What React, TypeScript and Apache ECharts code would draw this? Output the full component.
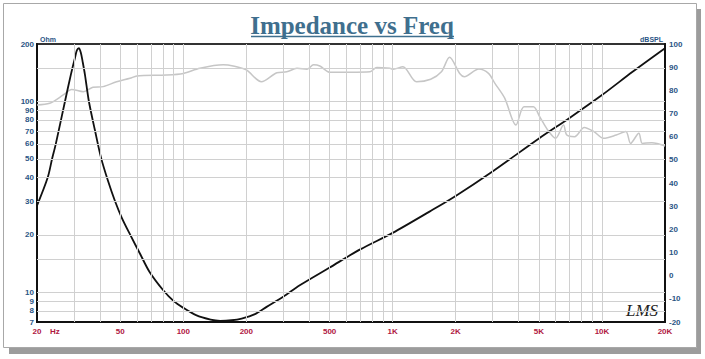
import { useEffect, useRef } from "react";
import * as echarts from "echarts";

// Impedance curve (Hz, Ohm)
const impFreq = [20, 22.5, 23.6, 24.6, 27.2, 29.1, 30.4, 31.0, 31.7, 32.4, 33.1, 33.9, 35.4, 37.9, 40.5, 43.7, 47.1, 50.9, 55.8, 62.2, 69, 80, 90, 100, 115, 135, 150, 170, 190, 220, 250, 300, 360, 500, 700, 1000, 1500, 2000, 3000, 5000, 7000, 10000, 14000, 20000];
const impOhm = [28.5, 40, 50, 60, 100, 140, 170, 185, 190, 180, 160, 138, 100, 70, 50.5, 38.3, 30.2, 24.5, 20, 15.9, 12.8, 10.3, 9.0, 8.3, 7.6, 7.2, 7.1, 7.15, 7.3, 7.7, 8.4, 9.5, 10.9, 13.5, 16.8, 20.5, 26.5, 32, 43, 64, 82, 108, 143, 190];

// SPL curve (Hz, dBSPL)
const splFreq = [20, 23, 26.7, 29.3, 33.3, 37, 41.4, 48, 55.6, 60, 83, 100, 120, 155, 173, 200, 236, 280, 312, 349, 390, 419, 449, 502, 625, 780, 840, 970, 1005, 1120, 1300, 1520, 1710, 1870, 2090, 2200, 2580, 2870, 3080, 3430, 3880, 4240, 4700, 5040, 5500, 6000, 6550, 6790, 7400, 8230, 9150, 10170, 11700, 13000, 13700, 15000, 15600, 17300, 20000];
const splDb = [73.7, 74.4, 78, 80.4, 79.4, 81.3, 81.6, 83.7, 85.2, 86.2, 86.6, 87.3, 89.5, 91, 90.5, 88.8, 83.7, 87.6, 88, 89.5, 89.1, 91, 90.5, 87.8, 87.8, 88, 89.9, 89.5, 89.1, 90.2, 83.7, 84.8, 88, 94.3, 87.3, 85.9, 89.2, 87.3, 83, 76.6, 65, 72.9, 72.9, 68.6, 62.9, 59.3, 65, 60.7, 60, 64, 62.2, 59.3, 60.7, 62.2, 57.1, 61.5, 57.1, 57.4, 56];

// Tick labels
const freqTicks = [20, 50, 100, 200, 500, 1000, 2000, 5000, 10000, 20000];
const freqTickLabels = ["20", "50", "100", "200", "500", "1K", "2K", "5K", "10K", "20K"];
const ohmTicks = [7, 8, 9, 10, 20, 30, 40, 50, 60, 70, 80, 90, 100, 200];

// Grid lines
const freqGrid = [30, 40, 50, 60, 70, 80, 90, 100, 200, 300, 400, 500, 600, 700, 800, 900, 1000, 2000, 3000, 4000, 5000, 6000, 7000, 8000, 9000, 10000];
const ohmGrid = [8, 9, 10, 15, 20, 30, 40, 50, 60, 70, 80, 90, 100, 150];

const BLUE = "#2b5585";
const RED = "#b0173f";
const LABEL_FONT = "Liberation Sans";

function closestLabel(v: number) {
  let best = 0;
  let bd = Infinity;
  freqTicks.forEach((t, i) => {
    const d = Math.abs(Math.log(v) - Math.log(t));
    if (d < bd) {
      bd = d;
      best = i;
    }
  });
  return freqTickLabels[best];
}

export default function App() {
  const ref = useRef<HTMLDivElement>(null);
  useEffect(() => {
    const chart = echarts.init(ref.current!, null, { renderer: "svg" });
    chart.setOption({
      animation: false,
      backgroundColor: "#ffffff",
      grid: {
        left: 37,
        top: 44,
        width: 628,
        height: 278,
        show: true,
        backgroundColor: "#ffffff",
        borderColor: "#333333",
        borderWidth: 2,
        z: 0,
      },
      xAxis: {
        type: "log",
        logBase: 10,
        min: 20,
        max: 20000,
        axisLine: { show: true, onZero: false, lineStyle: { color: "#111", width: 2 } },
        axisTick: { show: false },
        splitLine: { show: false },
        minorTick: { show: false },
        axisLabel: {
          customValues: freqTicks,
          formatter: (v: number) => closestLabel(v),
          color: RED,
          fontSize: 8,
          fontWeight: "bold",
          fontFamily: LABEL_FONT,
          margin: 5,
        },
      },
      yAxis: [
        {
          type: "log",
          logBase: 10,
          min: 7,
          max: 200,
          position: "left",
          axisLine: { show: true, onZero: false, lineStyle: { color: "#111", width: 2 } },
          axisTick: { show: false },
          splitLine: { show: false },
          axisLabel: {
            customValues: ohmTicks,
            formatter: (v: number) => String(Math.round(v)),
            color: BLUE,
            fontSize: 8,
            fontWeight: "bold",
            fontFamily: LABEL_FONT,
            margin: 3,
          },
        },
        {
          type: "value",
          min: -20,
          max: 100,
          interval: 10,
          position: "right",
          axisLine: { show: true, onZero: false, lineStyle: { color: "#111", width: 2 } },
          axisTick: { show: false },
          splitLine: { show: false },
          axisLabel: {
            color: BLUE,
            fontSize: 8,
            fontWeight: "bold",
            fontFamily: LABEL_FONT,
            margin: 4,
          },
        },
      ],
      series: [
        {
          type: "line",
          name: "grid",
          xAxisIndex: 0,
          yAxisIndex: 0,
          data: [[20, 7]],
          symbol: "none",
          lineStyle: { width: 0, opacity: 0 },
          silent: true,
          z: 1,
          markLine: {
            silent: true,
            symbol: ["none", "none"],
            label: { show: false },
            lineStyle: { color: "#d0d0d0", width: 1, type: "solid" },
            emphasis: { disabled: true },
            data: [
              ...freqGrid.map((f) => ({ xAxis: f })),
              ...ohmGrid.map((v) => ({ yAxis: v })),
            ],
          },
        },
        {
          type: "line",
          name: "SPL",
          xAxisIndex: 0,
          yAxisIndex: 1,
          data: splFreq.map((f, i) => [f, splDb[i]]),
          symbol: "none",
          smooth: 0.3,
          lineStyle: { color: "#c6c6c6", width: 1.5 },
          silent: true,
          z: 2,
        },
        {
          type: "line",
          name: "Impedance",
          xAxisIndex: 0,
          yAxisIndex: 0,
          data: impFreq.map((f, i) => [f, impOhm[i]]),
          symbol: "none",
          smooth: 0.3,
          lineStyle: { color: "#111111", width: 1.8 },
          silent: true,
          z: 3,
        },
      ],
      graphic: [
        {
          type: "rect",
          z: -20,
          silent: true,
          shape: { x: 9, y: 9, width: 692, height: 345 },
          style: { fill: "#9c9c9c" },
        },
        {
          type: "rect",
          z: -19,
          silent: true,
          shape: { x: 3.5, y: 3.5, width: 693, height: 344 },
          style: { fill: "#ffffff", stroke: "#a8a8a8", lineWidth: 1 },
        },
        {
          type: "text",
          x: 352,
          y: 25,
          silent: true,
          style: {
            text: "Impedance vs Freq",
            fontSize: 25,
            fontWeight: "bold",
            fontFamily: "Liberation Serif",
            fill: "#3f6f8e",
            align: "center",
            verticalAlign: "middle",
          },
        },
        {
          type: "line",
          silent: true,
          shape: { x1: 251, y1: 36.5, x2: 454, y2: 36.5 },
          style: { stroke: "#3f6f8e", lineWidth: 1.5 },
        },
        {
          type: "text",
          x: 40,
          y: 39,
          silent: true,
          style: {
            text: "Ohm",
            fontSize: 7,
            fontWeight: "bold",
            fontFamily: LABEL_FONT,
            fill: BLUE,
            align: "left",
            verticalAlign: "middle",
          },
        },
        {
          type: "text",
          x: 663,
          y: 39,
          silent: true,
          style: {
            text: "dBSPL",
            fontSize: 7,
            fontWeight: "bold",
            fontFamily: LABEL_FONT,
            fill: BLUE,
            align: "right",
            verticalAlign: "middle",
          },
        },
        {
          type: "text",
          x: 50,
          y: 331,
          silent: true,
          style: {
            text: "Hz",
            fontSize: 8,
            fontWeight: "bold",
            fontFamily: LABEL_FONT,
            fill: RED,
            align: "left",
            verticalAlign: "middle",
          },
        },
        {
          type: "text",
          x: 642,
          y: 310,
          silent: true,
          style: {
            text: "LMS",
            fontSize: 17,
            fontStyle: "italic",
            fontFamily: "Liberation Serif",
            fill: "#222222",
            align: "center",
            verticalAlign: "middle",
          },
        },
      ],
    });
    return () => chart.dispose();
  }, []);
  return (
    <div
      ref={ref}
      style={{ position: "absolute", left: 0, top: 0, width: 705, height: 359 }}
    />
  );
}
